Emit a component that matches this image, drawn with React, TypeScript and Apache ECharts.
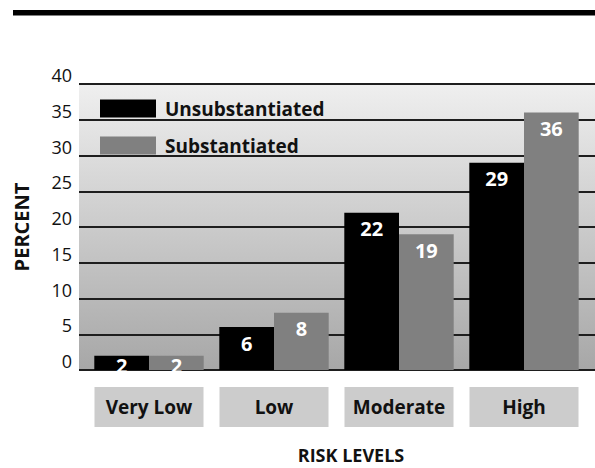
import React, { useEffect, useRef } from "react";
import * as echarts from "echarts";

const riskLevels = ["Very Low", "Low", "Moderate", "High"];
const unsubstantiated = [2, 6, 22, 29];
const substantiated = [2, 8, 19, 36];
const seriesNames = ["Unsubstantiated", "Substantiated"];
const yTicks = { min: 0, max: 40, interval: 5 };

const FONT = "'Open Sans', 'DejaVu Sans', sans-serif";

function barItems(values: number[]) {
  // very short bars keep their label hugging the top edge
  return values.map((v) =>
    v < 4
      ? { value: v, label: { position: "insideTop", distance: 0 } }
      : { value: v }
  );
}

export default function App() {
  const ref = useRef<HTMLDivElement>(null);

  useEffect(() => {
    if (!ref.current) return;
    const chart = echarts.init(ref.current, null, { renderer: "svg" });

    const labelStyle = {
      show: true,
      position: "insideTop",
      distance: 6,
      color: "#ffffff",
      fontFamily: FONT,
      fontWeight: "bold",
      fontSize: 20,
    };

    chart.setOption({
      animation: false,
      backgroundColor: "#ffffff",
      textStyle: { fontFamily: FONT },
      graphic: [
        {
          type: "rect",
          shape: { x: 13, y: 10, width: 582, height: 5.5 },
          style: { fill: "#000000" },
        },
        {
          type: "text",
          x: 351,
          y: 455,
          style: {
            text: "RISK LEVELS",
            fontFamily: FONT,
            fontWeight: "bold",
            fontSize: 18,
            fill: "#111111",
            align: "center",
            verticalAlign: "middle",
          },
        },
      ],
      legend: {
        orient: "vertical",
        left: 95,
        top: 94,
        itemWidth: 56,
        itemHeight: 18,
        itemGap: 18,
        icon: "rect",
        data: seriesNames,
        textStyle: {
          fontFamily: FONT,
          fontWeight: "bold",
          fontSize: 19,
          color: "#111111",
          padding: [0, 0, 0, 4],
        },
        selectedMode: false,
      },
      grid: [
        {
          // shaded panel with the percent gridlines
          left: 79,
          right: 0,
          top: 84,
          height: 286,
          show: true,
          borderWidth: 0,
          outerBoundsMode: "none",
          containLabel: false,
          backgroundColor: new echarts.graphic.LinearGradient(0, 0, 0, 1, [
            { offset: 0, color: "#efefef" },
            { offset: 1, color: "#a7a7a7" },
          ]),
        },
        {
          // bar layout area
          left: 86.5,
          width: 500,
          top: 84,
          height: 286,
          outerBoundsMode: "none",
          containLabel: false,
        },
      ],
      xAxis: [
        { type: "value", gridIndex: 0, show: false },
        {
          type: "category",
          gridIndex: 1,
          data: riskLevels,
          axisLine: { show: false },
          axisTick: { show: false },
          axisLabel: {
            margin: 17,
            fontFamily: FONT,
            fontWeight: "bold",
            fontSize: 19,
            color: "#111111",
            backgroundColor: "#cccccc",
            width: 109,
            height: 40,
            lineHeight: 40,
            align: "center",
          },
        },
      ],
      yAxis: [
        {
          type: "value",
          gridIndex: 0,
          min: yTicks.min,
          max: yTicks.max,
          interval: yTicks.interval,
          name: "PERCENT",
          nameLocation: "middle",
          nameGap: 48,
          nameRotate: 90,
          nameTextStyle: {
            fontFamily: FONT,
            fontWeight: "bold",
            fontSize: 20,
            color: "#111111",
          },
          axisLine: { show: false },
          axisTick: { show: false },
          axisLabel: {
            margin: 7,
            fontFamily: FONT,
            fontSize: 18,
            color: "#111111",
            verticalAlign: "bottom",
          },
          splitLine: { show: true, lineStyle: { color: "#1e1e1e", width: 2 } },
        },
        {
          type: "value",
          gridIndex: 1,
          min: yTicks.min,
          max: yTicks.max,
          interval: yTicks.interval,
          show: false,
          splitLine: { show: false },
        },
      ],
      series: [
        {
          name: seriesNames[0],
          type: "bar",
          xAxisIndex: 1,
          yAxisIndex: 1,
          barWidth: 54.7,
          barGap: "0%",
          itemStyle: { color: "#000000" },
          label: labelStyle,
          data: barItems(unsubstantiated),
        },
        {
          name: seriesNames[1],
          type: "bar",
          xAxisIndex: 1,
          yAxisIndex: 1,
          barWidth: 54.7,
          barGap: "0%",
          itemStyle: { color: "#808080" },
          label: labelStyle,
          data: barItems(substantiated),
        },
      ],
    });

    return () => chart.dispose();
  }, []);

  return (
    <div
      ref={ref}
      style={{ position: "fixed", left: 0, top: 0, width: 595, height: 468 }}
    />
  );
}
